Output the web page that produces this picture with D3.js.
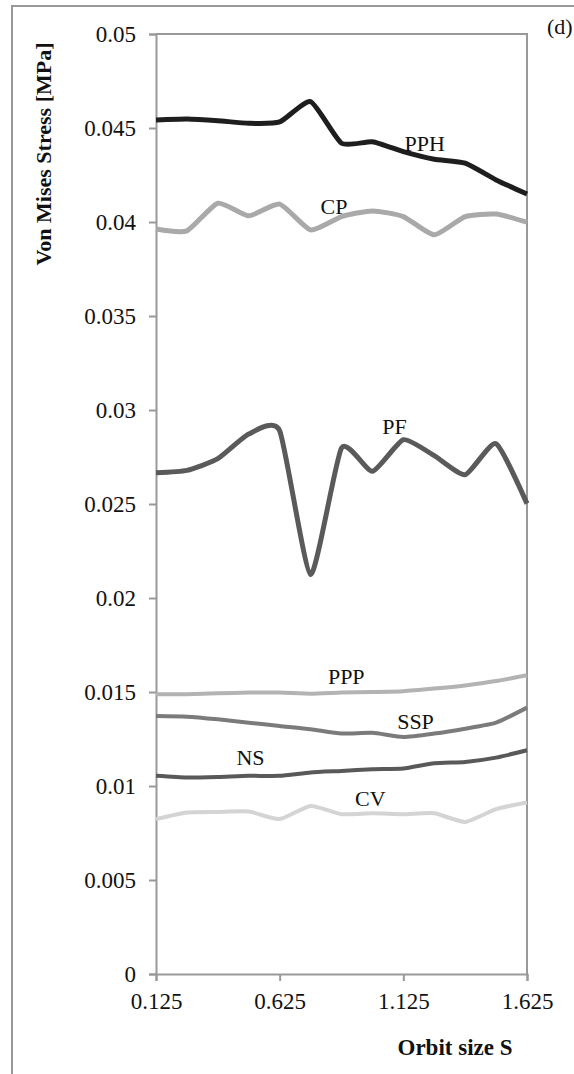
<!DOCTYPE html>
<html>
<head>
<meta charset="utf-8">
<script src="https://cdn.jsdelivr.net/npm/d3@7"></script>
<style>
  html, body { margin: 0; padding: 0; background: #fff; }
  svg { display: block; }
  text { font-family: "Liberation Serif", "Times New Roman", serif; fill: #111; }
</style>
</head>
<body>
<svg id="chart" width="574" height="1074"></svg>
<script>
// Orbit sizes S (x values)
const orbitSizes = [0.125, 0.25, 0.375, 0.5, 0.625, 0.75, 0.875, 1.0, 1.125, 1.25, 1.375, 1.5, 1.625];

// Von Mises stress [MPa] for each configuration
const PPH = [0.04543, 0.04548, 0.04539, 0.04525, 0.04532, 0.04640, 0.04419, 0.04427, 0.04374, 0.04334, 0.04313, 0.04224, 0.04149];
const CP  = [0.03963, 0.03953, 0.04100, 0.04033, 0.04095, 0.03958, 0.04029, 0.04059, 0.04029, 0.03932, 0.04029, 0.04042, 0.03999];
const PF  = [0.02666, 0.02679, 0.02741, 0.02872, 0.02890, 0.02125, 0.02798, 0.02674, 0.02842, 0.02757, 0.02656, 0.02821, 0.02502];
const PPP = [0.01488, 0.01488, 0.01493, 0.01497, 0.01497, 0.01491, 0.01497, 0.01500, 0.01504, 0.01518, 0.01535, 0.01558, 0.01589];
const SSP = [0.01372, 0.01369, 0.01355, 0.01337, 0.01319, 0.01302, 0.01279, 0.01283, 0.01261, 0.01279, 0.01305, 0.01337, 0.01417];
const NS  = [0.01054, 0.01045, 0.01048, 0.01054, 0.01054, 0.01072, 0.01080, 0.01089, 0.01093, 0.01121, 0.01128, 0.01151, 0.01190];
const CV  = [0.00824, 0.00859, 0.00862, 0.00864, 0.00824, 0.00894, 0.00850, 0.00855, 0.00850, 0.00855, 0.00809, 0.00877, 0.00912];

const yTicks = [0, 0.005, 0.01, 0.015, 0.02, 0.025, 0.03, 0.035, 0.04, 0.045, 0.05];
const xTicks = [0.125, 0.625, 1.125, 1.625];

const seriesNames = ["PPH", "CP", "PF", "PPP", "SSP", "NS", "CV"];
const seriesValues = [PPH, CP, PF, PPP, SSP, NS, CV];

// Styling and in-plot label anchors (data coordinates) per series
const styles = {
  PPH: { color: "#1e1e1e", width: 5, lx: 1.13, ly: 0.0438 },
  CP:  { color: "#a9a9a9", width: 5, lx: 0.79, ly: 0.0404 },
  PF:  { color: "#5a5a5a", width: 5, lx: 1.04, ly: 0.0287 },
  PPP: { color: "#b3b3b3", width: 4, lx: 0.82, ly: 0.01545 },
  SSP: { color: "#7b7b7b", width: 4, lx: 1.10, ly: 0.01305 },
  NS:  { color: "#595959", width: 4, lx: 0.45, ly: 0.01110 },
  CV:  { color: "#d4d4d4", width: 4, lx: 0.93, ly: 0.00895 }
};

const svg = d3.select("#chart");
const W = 574, H = 1074;
const margin = { left: 156, right: W - 527, top: 34, bottom: H - 974 };

const x = d3.scaleLinear().domain([0.125, 1.625]).range([margin.left, W - margin.right]);
const y = d3.scaleLinear().domain([0, 0.05]).range([H - margin.bottom, margin.top]);

const axisColor = "#999";

// Outer figure frame
svg.append("path")
  .attr("d", `M12,${H} L12,6 L${W},6`)
  .attr("fill", "none").attr("stroke", axisColor).attr("stroke-width", 2);

// Plot area frame (top and right)
svg.append("path")
  .attr("d", `M${x(0.125)},${y(0.05)} L${x(1.625)},${y(0.05)} L${x(1.625)},${y(0)}`)
  .attr("fill", "none").attr("stroke", axisColor).attr("stroke-width", 2);

// Y axis
const yAxis = svg.append("g")
  .attr("transform", `translate(${x(0.125)},0)`)
  .call(d3.axisLeft(y).tickValues(yTicks).tickSize(7).tickPadding(13)
        .tickFormat(d => d === 0 ? "0" : String(+d.toFixed(3))));
yAxis.select(".domain").attr("stroke", axisColor).attr("stroke-width", 2);
yAxis.selectAll(".tick line").attr("stroke", axisColor).attr("stroke-width", 2);
yAxis.selectAll(".tick text").attr("font-size", 23).attr("fill", "#111")
  .style("font-family", "'Liberation Serif', 'Times New Roman', serif");

// X axis
const xAxis = svg.append("g")
  .attr("transform", `translate(0,${y(0)})`)
  .call(d3.axisBottom(x).tickValues(xTicks).tickSize(7).tickPadding(12)
        .tickFormat(d3.format(".3f")));
xAxis.select(".domain").attr("stroke", axisColor).attr("stroke-width", 2);
xAxis.selectAll(".tick line").attr("stroke", axisColor).attr("stroke-width", 2);
xAxis.selectAll(".tick text").attr("font-size", 23).attr("fill", "#111")
  .style("font-family", "'Liberation Serif', 'Times New Roman', serif");

// Series lines (smoothed)
const line = d3.line()
  .x((d, i) => x(orbitSizes[i]))
  .y(d => y(d))
  .curve(d3.curveCardinal.tension(0.45));

seriesNames.forEach((name, k) => {
  const s = styles[name];
  svg.append("path")
    .datum(seriesValues[k])
    .attr("d", line)
    .attr("fill", "none")
    .attr("stroke", s.color)
    .attr("stroke-width", s.width)
    .attr("stroke-linejoin", "round");
});

// Series labels
seriesNames.forEach(name => {
  const s = styles[name];
  svg.append("text")
    .attr("x", x(s.lx))
    .attr("y", y(s.ly))
    .attr("font-size", 22)
    .text(name);
});

// Axis titles
svg.append("text")
  .attr("transform", `translate(51,154) rotate(-90)`)
  .attr("text-anchor", "middle")
  .attr("font-size", 22)
  .attr("font-weight", "bold")
  .text("Von Mises Stress [MPa]");

svg.append("text")
  .attr("x", 455).attr("y", 1055)
  .attr("text-anchor", "middle")
  .attr("font-size", 23)
  .attr("font-weight", "bold")
  .text("Orbit size S");

// Panel tag
svg.append("text")
  .attr("x", 547).attr("y", 34)
  .attr("font-size", 22)
  .text("(d)");
</script>
</body>
</html>
